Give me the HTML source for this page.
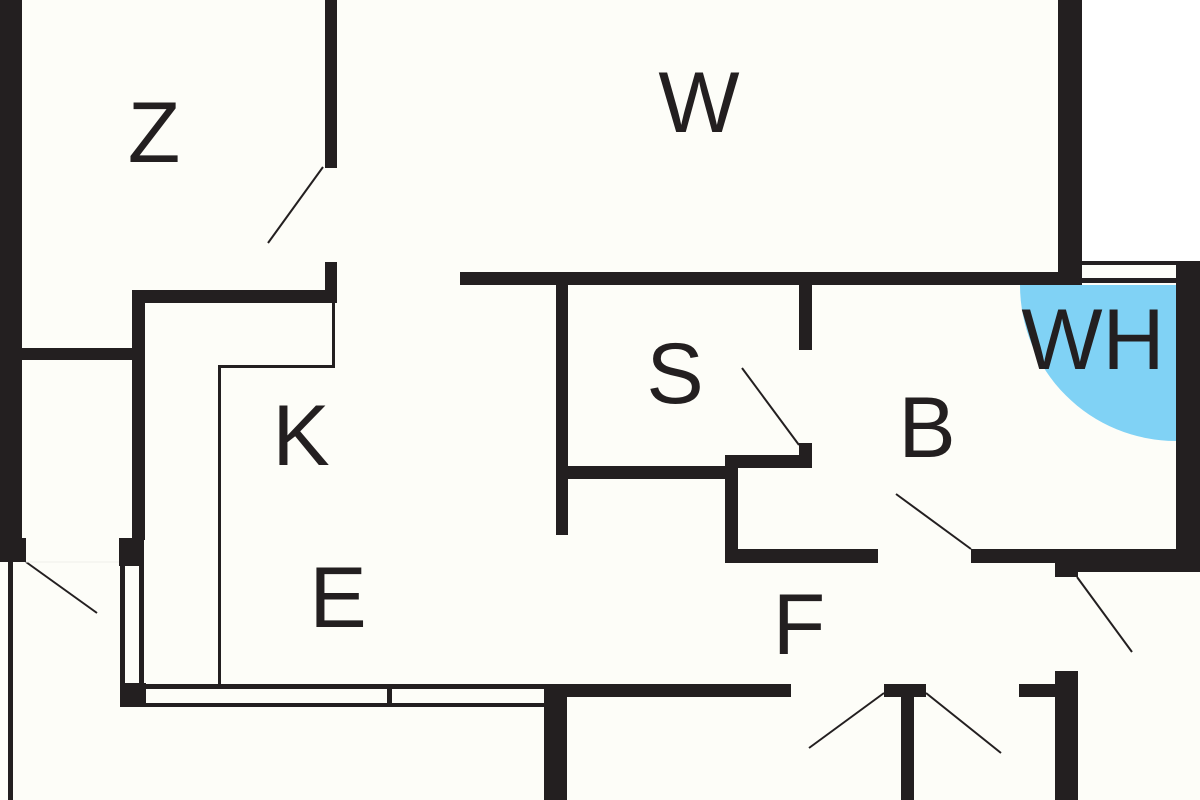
<!DOCTYPE html>
<html>
<head>
<meta charset="utf-8">
<style>
  html, body { margin: 0; padding: 0; background: #fdfdf8; }
  svg { display: block; }
  text { font-family: "Liberation Sans", Arial, sans-serif; font-size: 86px; fill: #231f20; text-anchor: middle; }
</style>
</head>
<body>
<svg width="1200" height="800" viewBox="0 0 1200 800" xmlns="http://www.w3.org/2000/svg">
  <rect x="0" y="0" width="1200" height="800" fill="#fdfdf8"/>
  <!-- outside white region top-right -->
  <rect x="1082" y="0" width="118" height="261" fill="#ffffff"/>

  <!-- blue quarter circle -->
  <path d="M1176,285 L1020,285 A156,156 0 0 0 1176,441 Z" fill="#80d2f5"/>

  <g fill="#231f20">
    <!-- left outer wall -->
    <rect x="0" y="0" width="22" height="540"/>
    <rect x="0" y="538" width="26" height="24"/>
    <rect x="8" y="561" width="5" height="239"/>

    <!-- Z room -->
    <rect x="325" y="0" width="12" height="168"/>
    <rect x="0" y="348" width="133" height="12"/>
    <rect x="132" y="290" width="13" height="250"/>
    <rect x="132" y="290" width="205" height="13"/>
    <rect x="325" y="262" width="12" height="41"/>
    <rect x="119" y="538" width="25" height="28"/>

    <!-- thin counter lines K -->
    <rect x="332" y="302" width="3" height="66"/>
    <rect x="218" y="365" width="117" height="3"/>
    <rect x="218" y="365" width="3" height="320"/>

    <!-- vertical window left -->
    <rect x="120" y="566" width="5" height="118"/>
    <rect x="139" y="566" width="5" height="118"/>
    <rect x="120" y="683" width="26" height="24"/>

    <!-- horizontal window bottom -->
    <rect x="146" y="684" width="398" height="5"/>
    <rect x="146" y="703" width="398" height="4"/>
    <rect x="387" y="689" width="5" height="14"/>

    <!-- bottom walls -->
    <rect x="544" y="684" width="23" height="116"/>
    <rect x="544" y="684" width="247" height="13"/>
    <rect x="884" y="684" width="42" height="13"/>
    <rect x="901" y="684" width="13" height="116"/>
    <rect x="1019" y="684" width="40" height="13"/>
    <rect x="1055" y="671" width="23" height="129"/>

    <!-- W right wall and top wall -->
    <rect x="1058" y="0" width="24" height="285"/>
    <rect x="460" y="272" width="600" height="13"/>
    <!-- window top right -->
    <rect x="1082" y="261" width="96" height="4"/>
    <rect x="1082" y="278" width="96" height="5"/>
    <rect x="1176" y="261" width="24" height="311"/>

    <!-- S room -->
    <rect x="556" y="272" width="12" height="263"/>
    <rect x="556" y="466" width="169" height="13"/>
    <rect x="725" y="455" width="13" height="108"/>
    <rect x="725" y="455" width="87" height="13"/>
    <rect x="799" y="443" width="13" height="25"/>
    <rect x="725" y="549" width="153" height="14"/>
    <rect x="799" y="272" width="13" height="78"/>

    <!-- B bottom wall -->
    <rect x="971" y="549" width="205" height="14"/>
    <rect x="1055" y="549" width="145" height="23"/>
    <rect x="1055" y="549" width="23" height="28"/>
  </g>

  <!-- door swings -->
  <g stroke="#231f20" stroke-width="2" fill="none">
    <line x1="323" y1="167" x2="268" y2="243"/>
    <line x1="26" y1="562" x2="97" y2="613"/>
    <line x1="742" y1="368" x2="799" y2="445"/>
    <line x1="896" y1="494" x2="971" y2="549"/>
    <line x1="1077" y1="577" x2="1132" y2="652"/>
    <line x1="884" y1="693" x2="809" y2="748"/>
    <line x1="926" y1="693" x2="1001" y2="753"/>
  </g>
  <line x1="26" y1="562" x2="119" y2="562" stroke="#eeeeea" stroke-width="1"/>

  <!-- labels -->
  <text x="154" y="162">Z</text>
  <text x="699" y="132">W</text>
  <text x="301" y="465">K</text>
  <text x="338" y="627">E</text>
  <text x="675" y="403">S</text>
  <text x="927" y="457">B</text>
  <text x="1093" y="369">WH</text>
  <text x="799" y="654">F</text>
</svg>
</body>
</html>
